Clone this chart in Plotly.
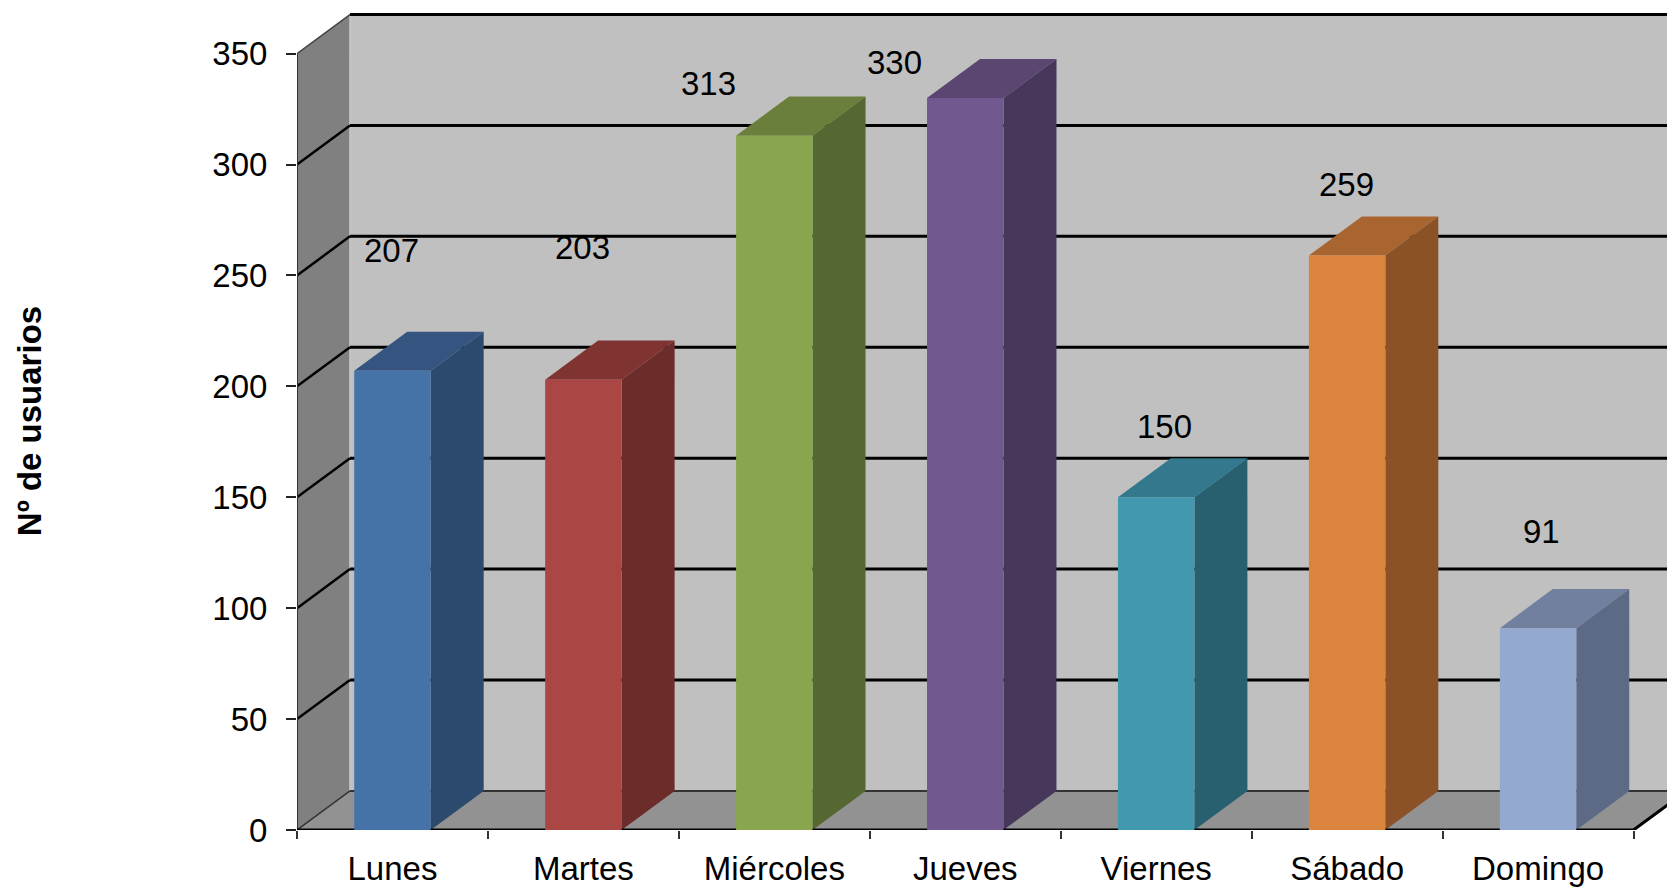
import plotly.graph_objects as go

# --- data ---
categories = ["Lunes", "Martes", "Miércoles", "Jueves", "Viernes", "Sábado", "Domingo"]
users = [207, 203, 313, 330, 150, 259, 91]
y_ticks = [0, 50, 100, 150, 200, 250, 300, 350]

# --- styling ---
front_colors = ["#4572A7", "#AA4643", "#89A54E", "#71588F", "#4198AF", "#DB843D", "#93A9CF"]
top_colors = ["#35547F", "#7F3432", "#6B7F3C", "#5B4571", "#33788D", "#A9652F", "#71809F"]
side_colors = ["#2C4A6E", "#6B2C2A", "#566832", "#47375A", "#286070", "#8A5226", "#5D6A85"]
label_shift_x = [-1, -1, -66, -71, 8, -1, 3]
label_shift_up = [120, 132, 52, 35, 71, 71, 97]

W, H = 1667, 887
LEFT, BOTTOM, TOP = 296.5, 54.5, 12
CAT_PX = 191.0
VAL_PX = 2.225
DX = 53 / CAT_PX   # oblique depth, in category units
DY = 39.2 / VAL_PX  # oblique depth, in value units
BAR_W = 76.5 / CAT_PX
X0 = -0.5
X1 = len(categories) - 0.5
X_MAX = (W - LEFT) / CAT_PX - 0.5
Y_MAX = (H - BOTTOM - TOP) / VAL_PX
Y_TOP = y_ticks[-1]
FONT = "Liberation Sans, Arial, sans-serif"
FSIZE = 33

fig = go.Figure()


def poly(xs, ys, color):
    fig.add_trace(go.Scatter(x=xs, y=ys, mode="lines", fill="toself", fillcolor=color,
                             line=dict(width=0, color=color), hoverinfo="skip", showlegend=False))


def line(xs, ys, color="#000000", width=3):
    fig.add_trace(go.Scatter(x=xs, y=ys, mode="lines", line=dict(color=color, width=width),
                             hoverinfo="skip", showlegend=False))


# walls and floor
poly([X0 + DX, X1 + 2, X1 + 2, X0 + DX], [DY, DY, Y_TOP + DY, Y_TOP + DY], "#C0C0C0")
poly([X0, X0 + DX, X0 + DX, X0], [0, DY, Y_TOP + DY, Y_TOP], "#808080")
poly([X0, X1, X1 + DX, X0 + DX], [0, 0, DY, DY], "#929292")
line([X0 + DX, X0 + DX], [DY, Y_TOP + DY], "#C8C8C8", 1.5)

# gridlines on the walls
for t in y_ticks[1:]:
    is_top = t == Y_TOP
    line([X0, X0 + DX], [t, t + DY], "#444444" if is_top else "#000000", 1.5 if is_top else 2.5)
    line([X0 + DX, X1 + 2], [t + DY, t + DY], "#000000", 3)
line([X0 + DX, X1 + 2], [DY, DY], "#333333", 2)
line([X0, X0 + DX], [0, DY], "#333333", 1.5)
line([X0, X0], [0, Y_TOP], "#333333", 2)

# top and side faces of the bars
for i, v in enumerate(users):
    xl, xr = i - BAR_W / 2, i + BAR_W / 2
    poly([xl, xr, xr + DX, xl + DX], [v, v, v + DY, v + DY], top_colors[i])
    poly([xr, xr + DX, xr + DX, xr], [0, DY, v + DY, v], side_colors[i])

# front edge of the floor
line([X0, X1, X1 + DX], [0, 0, DY], "#000000", 3)

# front faces of the bars
fig.add_trace(go.Bar(x=categories, y=users, xaxis="x2", yaxis="y", width=BAR_W,
                     marker=dict(color=front_colors, line=dict(width=0)),
                     showlegend=False, hovertemplate="%{x}: %{y}<extra></extra>"))

# value labels
for i, v in enumerate(users):
    fig.add_annotation(x=i, y=v, xref="x", yref="y", text=str(v), showarrow=False,
                       xanchor="center", yanchor="middle",
                       xshift=label_shift_x[i], yshift=label_shift_up[i],
                       font=dict(family=FONT, size=FSIZE, color="#000000"))

fig.update_layout(
    width=W, height=H,
    margin=dict(l=LEFT, r=0, t=TOP, b=BOTTOM),
    paper_bgcolor="#FFFFFF", plot_bgcolor="#FFFFFF",
    showlegend=False,
    font=dict(family=FONT, size=FSIZE, color="#000000"),
    xaxis=dict(type="linear", range=[X0, X_MAX],
               tickmode="array",
               tickvals=[X0 + i for i in range(len(categories) + 1)],
               showticklabels=False, ticks="outside", ticklen=8, tickwidth=1.5, tickcolor="#333333",
               showgrid=False, zeroline=False, showline=False),
    xaxis2=dict(type="category", overlaying="x", side="bottom", anchor="y",
                range=[X0, X_MAX], categoryorder="array", categoryarray=categories,
                tickmode="array", tickvals=categories, ticktext=categories,
                ticks="outside", ticklen=9, tickcolor="rgba(0,0,0,0)",
                tickfont=dict(family=FONT, size=FSIZE, color="#000000"),
                showgrid=False, zeroline=False, showline=False),
    yaxis=dict(range=[0, Y_MAX], tickmode="array", tickvals=y_ticks,
               ticks="outside", ticklen=10, tickwidth=1.5, tickcolor="#222222",
               ticklabelstandoff=12,
               tickfont=dict(family=FONT, size=FSIZE, color="#000000"),
               showgrid=False, zeroline=False, showline=False,
               title=dict(text="<b>Nº de usuarios</b>", standoff=160,
                          font=dict(family=FONT, size=33, color="#000000"))),
)

fig.write_html("out.html", post_script="document.body.style.margin='0';",
               config={"displayModeBar": False})
